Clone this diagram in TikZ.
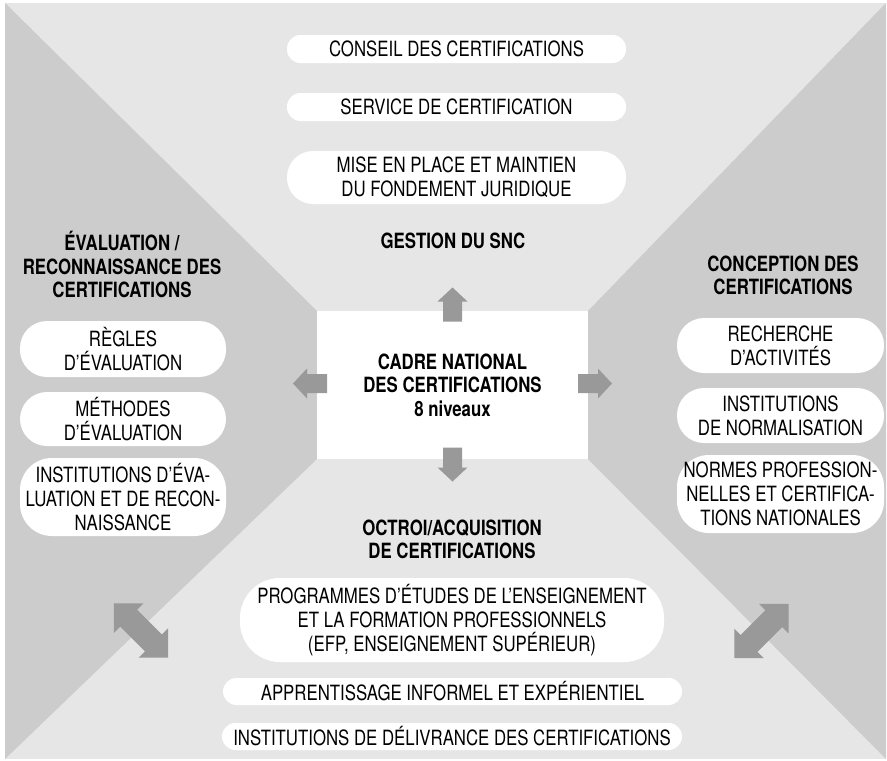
\documentclass[tikz,border=0pt]{standalone}
\usepackage{fontspec}
\setmainfont{TeX Gyre Heros}[FakeStretch=0.8]
\definecolor{light}{HTML}{E6E6E6}
\definecolor{side}{HTML}{CCCCCC}
\definecolor{arr}{HTML}{999999}

\begin{document}
\begin{tikzpicture}
[x=1pt,y=-1pt,every node/.style={inner sep=0pt,align=center,font=\fontsize{21}{24}\selectfont},
 pill/.style={fill=white,rounded corners=13.5pt},
 head/.style={font=\fontsize{21}{23.5}\selectfont\bfseries}]
\useasboundingbox (0,0) rectangle (887,761);
% background
\fill[light] (5,3) rectangle (886,759);
\fill[side] (5,3) -- (317,311) -- (317,459) -- (5,759) -- cycle;
\fill[side] (886,3) -- (588,311) -- (588,459) -- (886,759) -- cycle;
\node[head,fill=white,minimum width=271pt,minimum height=148pt] (cadre) at (452.5,385) {CADRE NATIONAL\\DES CERTIFICATIONS\\8 niveaux};
% arrows
\foreach \ang/\d in {90/96,270/98,180/159.5,0/159.5}
\fill[arr,shift={(452.5,383.5)},rotate=\ang] (\d,0) -- (\d-14,15) -- (\d-14,9.5) -- (\d-34,9.5) -- (\d-34,-9.5) -- (\d-14,-9.5) -- (\d-14,-15) -- cycle;
\foreach \cx/\cy/\ang in {141/630.5/-45,761.5/631/45}
\fill[arr,shift={(\cx,\cy)},rotate=\ang] (-38.5,0) -- (-17.5,21) -- (-17.5,12) -- (17.5,12) -- (17.5,21) -- (38.5,0) -- (17.5,-21) -- (17.5,-12) -- (-17.5,-12) -- (-17.5,-21) -- cycle;
% top
\node[pill,minimum width=339pt,minimum height=28pt] (conseil) at (456.5,49) {CONSEIL DES CERTIFICATIONS};
\node[pill,minimum width=339pt,minimum height=28pt] (service) at (456.5,107) {SERVICE DE CERTIFICATION};
\node[pill,rounded corners=26pt,minimum width=339pt,minimum height=53pt] (juridique) at (456.5,177.5) {MISE EN PLACE ET MAINTIEN\\DU FONDEMENT JURIDIQUE};
\node[head] (gestion) at (453,240.5) {GESTION DU SNC};
% left
\node[head] (evaluation) at (122,264.5) {ÉVALUATION /\\RECONNAISSANCE DES\\CERTIFICATIONS};
\node[pill,rounded corners=27pt,minimum width=206pt,minimum height=56pt] (regles) at (123,349) {RÈGLES\\D’ÉVALUATION};
\node[pill,rounded corners=27pt,minimum width=206pt,minimum height=54pt] (methodes) at (123,419) {MÉTHODES\\D’ÉVALUATION};
\node[pill,rounded corners=32pt,minimum width=206pt,minimum height=78pt] (insteval) at (123,497) {INSTITUTIONS D’ÉVA-\\LUATION ET DE RECON-\\NAISSANCE};
% right
\node[head] (conception) at (783,275.5) {CONCEPTION DES\\CERTIFICATIONS};
\node[pill,rounded corners=27pt,minimum width=207pt,minimum height=55pt] (recherche) at (780.5,345.5) {RECHERCHE\\D’ACTIVITÉS};
\node[pill,rounded corners=27pt,minimum width=207pt,minimum height=55pt] (normalisation) at (780.5,415.5) {INSTITUTIONS\\DE NORMALISATION};
\node[pill,rounded corners=32pt,minimum width=207pt,minimum height=78pt] (normes) at (780.5,494) {NORMES PROFESSION-\\NELLES ET CERTIFICA-\\TIONS NATIONALES};
% bottom
\node[head] (octroi) at (452,539.5) {OCTROI/ACQUISITION\\DE CERTIFICATIONS};
\node[pill,rounded corners=40pt,minimum width=424pt,minimum height=84pt] (programmes) at (452,620) {PROGRAMMES D’ÉTUDES DE L’ENSEIGNEMENT\\ET LA FORMATION PROFESSIONNELS\\(EFP, ENSEIGNEMENT SUPÉRIEUR)};
\node[pill,minimum width=459pt,minimum height=27pt] (apprentissage) at (452.5,691.5) {APPRENTISSAGE INFORMEL ET EXPÉRIENTIEL};
\node[pill,minimum width=460pt,minimum height=27pt] (delivrance) at (452,736.5) {INSTITUTIONS DE DÉLIVRANCE DES CERTIFICATIONS};
\end{tikzpicture}
\end{document}
